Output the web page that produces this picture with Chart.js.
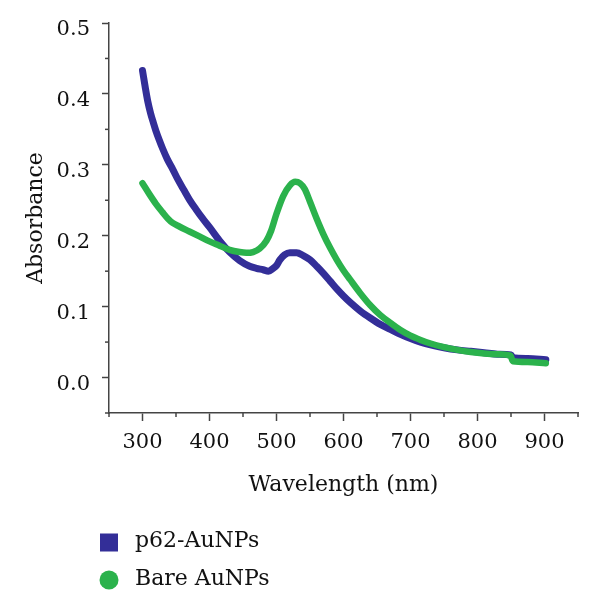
<!DOCTYPE html>
<html>
<head>
<meta charset="utf-8">
<script src="https://cdn.jsdelivr.net/npm/chart.js@4/dist/chart.umd.min.js"></script>
<style>
html,body{margin:0;padding:0;background:#fff;}
#wrap{width:600px;height:611px;position:relative;}
</style>
</head>
<body>
<div id="wrap"><canvas id="c" width="600" height="611"></canvas></div>
<script>
// ---- data ----
const seriesNames = ['p62-AuNPs', 'Bare AuNPs'];
const wavelengthP62 = [300,304,308,312,316,320,325,330,337,345,353,362,370,380,390,400,415,430,445,460,470,480,488,495,500,505,512,520,530,540,550,560,570,580,590,600,610,625,640,655,670,685,700,715,730,750,770,790,810,830,850,853,875,902];
const absorbanceP62 = [0.433,0.410,0.389,0.373,0.360,0.348,0.335,0.323,0.308,0.294,0.279,0.264,0.251,0.237,0.224,0.212,0.193,0.177,0.165,0.157,0.154,0.152,0.150,0.154,0.158,0.166,0.173,0.176,0.176,0.172,0.166,0.157,0.147,0.136,0.125,0.115,0.106,0.094,0.084,0.075,0.068,0.061,0.055,0.050,0.046,0.042,0.039,0.037,0.035,0.033,0.032,0.028,0.027,0.025];
const wavelengthBare = [300,310,320,330,338,345,355,370,385,400,415,430,445,455,465,475,485,492,500,510,520,528,535,542,550,560,570,580,590,600,610,625,640,655,670,685,700,715,730,750,770,790,810,830,849,853,875,902];
const absorbanceBare = [0.274,0.259,0.245,0.233,0.224,0.218,0.213,0.206,0.199,0.192,0.186,0.180,0.177,0.176,0.177,0.182,0.193,0.207,0.231,0.256,0.271,0.276,0.274,0.266,0.248,0.224,0.202,0.183,0.166,0.151,0.138,0.119,0.102,0.088,0.077,0.067,0.059,0.053,0.048,0.043,0.039,0.036,0.034,0.033,0.031,0.023,0.022,0.020];
const xTickLabels = [300,400,500,600,700,800,900];
const yTickLabels = ['0.0','0.1','0.2','0.3','0.4','0.5'];

const colors = ['#332e98', '#2bb24c'];
const FONT = 'DejaVu Serif';

function pts(xs, ys){ return xs.map((x,i)=>({x:x, y:ys[i]})); }
function isMajorX(v){ return xTickLabels.indexOf(Math.round(v)) >= 0 && Math.abs(v - Math.round(v)) < 1e-6; }
function isMajorY(v){ return Math.abs(v*10 - Math.round(v*10)) < 1e-6 && yTickLabels.indexOf((Math.round(v*10)/10).toFixed(1)) >= 0; }

const AXIS = '#444';

const minorTicks = {
  id: 'minorTicks',
  afterDraw(chart){
    const ctx = chart.ctx;
    ctx.save();
    ctx.strokeStyle = AXIS;
    ctx.lineWidth = 1.5;
    const xs = chart.scales.x, ys = chart.scales.y;
    xs.ticks.forEach(t => {
      if (!isMajorX(t.value)) {
        const px = xs.getPixelForValue(t.value);
        ctx.beginPath(); ctx.moveTo(px, xs.top); ctx.lineTo(px, xs.top + 4); ctx.stroke();
      }
    });
    ys.ticks.forEach(t => {
      if (!isMajorY(t.value)) {
        const py = ys.getPixelForValue(t.value);
        ctx.beginPath(); ctx.moveTo(ys.right, py); ctx.lineTo(ys.right - 4, py); ctx.stroke();
      }
    });
    ctx.restore();
  }
};

const stackedLegend = {
  id: 'stackedLegend',
  afterDraw(chart){
    const ctx = chart.ctx;
    const left = chart.chartArea.left;
    const top = chart.chartArea.bottom;
    ctx.save();
    ctx.font = '22px "' + FONT + '"';
    ctx.textBaseline = 'alphabetic';
    ctx.textAlign = 'left';
    chart.data.datasets.forEach((ds, i) => {
      const cy = top + 129.5 + i * 37.5;
      ctx.fillStyle = ds.borderColor;
      if (i === 0) {
        ctx.fillRect(left - 9, cy - 9, 18, 18);
      } else {
        ctx.beginPath(); ctx.arc(left, cy, 9.5, 0, Math.PI * 2); ctx.fill();
      }
      ctx.fillStyle = '#111';
      ctx.fillText(ds.label, left + 26, cy + 4.5);
    });
    ctx.restore();
  }
};

new Chart(document.getElementById('c'), {
  type: 'line',
  data: {
    datasets: [
      { label: seriesNames[0], data: pts(wavelengthP62, absorbanceP62), borderColor: colors[0], backgroundColor: colors[0], borderWidth: 7, pointRadius: 0, cubicInterpolationMode: 'monotone', borderCapStyle: 'round', borderJoinStyle: 'round', order: 2 },
      { label: seriesNames[1], data: pts(wavelengthBare, absorbanceBare), borderColor: colors[1], backgroundColor: colors[1], borderWidth: 6.5, pointRadius: 0, cubicInterpolationMode: 'monotone', borderCapStyle: 'round', borderJoinStyle: 'round', order: 1 }
    ]
  },
  options: {
    responsive: false,
    animation: false,
    devicePixelRatio: 1,
    layout: { padding: { left: 0, top: 23, right: 22, bottom: 108 } },
    plugins: { legend: { display: false }, tooltip: { enabled: false } },
    scales: {
      x: {
        type: 'linear', min: 250, max: 950,
        border: { display: true, color: AXIS, width: 1.5 },
        grid: { drawOnChartArea: false, drawTicks: true, tickLength: 8, tickWidth: 1.5,
                tickColor: c => isMajorX(c.tick.value) ? AXIS : 'rgba(0,0,0,0)' },
        ticks: { stepSize: 50, autoSkip: false, maxRotation: 0, padding: 9, color: '#111',
                 font: { family: FONT, size: 21 },
                 callback: v => isMajorX(v) ? String(Math.round(v)) : '' },
        title: { display: true, text: 'Wavelength (nm)', color: '#111', font: { family: FONT, size: 22 }, padding: { top: 0, bottom: 5 } },
        afterFit: s => { s.height = 90; s.paddingLeft = 0; s.paddingRight = 0; }
      },
      y: {
        type: 'linear', min: -0.05, max: 0.5,
        border: { display: true, color: AXIS, width: 1.5 },
        grid: { drawOnChartArea: false, drawTicks: true, tickLength: 7, tickWidth: 1.5,
                tickColor: c => isMajorY(c.tick.value) ? AXIS : 'rgba(0,0,0,0)' },
        ticks: { stepSize: 0.05, autoSkip: false, padding: 12, labelOffset: 7, color: '#111',
                 font: { family: FONT, size: 21 },
                 callback: v => isMajorY(v) ? (Math.round(v*10)/10).toFixed(1) : '' },
        title: { display: true, text: 'Absorbance', color: '#111', font: { family: FONT, size: 22 }, padding: { top: 23, bottom: 0 } },
        afterFit: s => { s.width = 109; s.paddingTop = 0; s.paddingBottom = 0; }
      }
    }
  },
  plugins: [minorTicks, stackedLegend]
});
</script>
</body>
</html>
